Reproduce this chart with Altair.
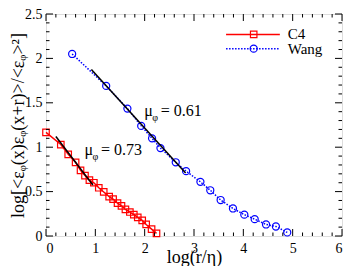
import altair as alt
import pandas as pd
import numpy as np

# ---- data ----
c4_x = [0.00, 0.30, 0.45, 0.60, 0.70, 0.79, 0.88, 0.97, 1.07, 1.17, 1.28, 1.36,
        1.45, 1.53, 1.61, 1.70, 1.78, 1.86, 1.95, 2.03, 2.14, 2.24]
c4_y = [1.167, 1.03, 0.92, 0.83, 0.74, 0.68, 0.63, 0.60, 0.543, 0.496, 0.444, 0.415,
        0.37, 0.34, 0.30, 0.27, 0.24, 0.21, 0.176, 0.13, 0.077, 0.03]

wang_x = [0.53, 1.22, 1.65, 1.93, 2.15, 2.32, 2.63, 2.84, 3.13, 3.33, 3.54,
          3.79, 4.02, 4.23, 4.46, 4.66, 4.89]
wang_y = [2.05, 1.69, 1.435, 1.24, 1.10, 0.99, 0.83, 0.73, 0.61, 0.515, 0.405,
          0.31, 0.24, 0.19, 0.13, 0.107, 0.04]

fit_c4_x = [0.20, 0.95]
fit_c4_y = [1.12, 0.575]
fit_wang_x = [0.92, 2.83]
fit_wang_y = [1.875, 0.71]

series_names = ["C4", "Wang"]
x_major = [0, 1, 2, 3, 4, 5, 6]
y_major = [0, 0.5, 1.0, 1.5, 2.0, 2.5]

W, H = 296, 222
FONT = "Times New Roman, Liberation Serif, serif"
RED = "#ff0000"
BLUE = "#0000ff"

xs = alt.Scale(domain=[0, 6], nice=False, zero=False)
ys = alt.Scale(domain=[0, 2.5], nice=False, zero=False)

c4 = pd.DataFrame({"x": c4_x, "y": c4_y})
wang = pd.DataFrame({"x": wang_x, "y": wang_y})
fc4 = pd.DataFrame({"x": fit_c4_x, "y": fit_c4_y})
fw = pd.DataFrame({"x": fit_wang_x, "y": fit_wang_y})

X = alt.X("x:Q", scale=xs,
          axis=alt.Axis(values=x_major, title="log(r/η)", format="d", ticks=False,
                        domain=False, grid=False, labelPadding=5, titlePadding=-7,
                        labelFontSize=14, titleFontSize=18, labelFont=FONT, titleFont=FONT,
                        labelColor="black", titleColor="black", titleFontWeight="normal"))
Y = alt.Y("y:Q", scale=ys,
          axis=alt.Axis(values=y_major, title="log[<εᵩ(x)εᵩ(x+r)>/<εᵩ>²]", ticks=False,
                        domain=False, grid=False, labelPadding=4, titlePadding=-3,
                        labelFontSize=14, titleFontSize=18, labelFont=FONT, titleFont=FONT,
                        labelColor="black", titleColor="black", titleFontWeight="normal",
                        labelExpr="datum.value == 0 ? '0' : (datum.value % 1 == 0 ? format(datum.value, 'd') : format(datum.value, '.1f'))"))

c4_line = alt.Chart(c4).mark_line(color=RED, strokeWidth=1.5).encode(x=X, y=Y)
c4_pts = alt.Chart(c4).mark_point(shape="square", filled=False, color=RED,
                                  strokeWidth=1.2, size=42, opacity=1).encode(x="x:Q", y="y:Q")
w_line = alt.Chart(wang).mark_line(color=BLUE, strokeWidth=1.5,
                                   strokeDash=[1.5, 1.5]).encode(x="x:Q", y="y:Q")
w_pts = alt.Chart(wang).mark_point(shape="circle", filled=False, color=BLUE,
                                   strokeWidth=1.2, size=50, opacity=1).encode(x="x:Q", y="y:Q")
f1 = alt.Chart(fc4).mark_line(color="black", strokeWidth=1.5).encode(x="x:Q", y="y:Q")
f2 = alt.Chart(fw).mark_line(color="black", strokeWidth=1.5).encode(x="x:Q", y="y:Q")

# ---- ticks pointing inward, on all four sides ----
x_minor = [round(v, 2) for v in np.arange(0, 6.001, 0.2) if abs(v - round(v)) > 1e-6]
y_minor = [round(v, 2) for v in np.arange(0, 2.5001, 0.1) if abs(v * 2 - round(v * 2)) > 1e-6]

def xticks(vals, L):
    d = pd.DataFrame({"x": vals})
    b = alt.Chart(d).mark_rule(color="black", strokeWidth=1).encode(
        x="x:Q", y=alt.value(H), y2=alt.value(H - L))
    t = alt.Chart(d).mark_rule(color="black", strokeWidth=1).encode(
        x="x:Q", y=alt.value(0), y2=alt.value(L))
    return b + t

def yticks(vals, L):
    d = pd.DataFrame({"y": vals})
    l = alt.Chart(d).mark_rule(color="black", strokeWidth=1).encode(
        y="y:Q", x=alt.value(0), x2=alt.value(L))
    r = alt.Chart(d).mark_rule(color="black", strokeWidth=1).encode(
        y="y:Q", x=alt.value(W), x2=alt.value(W - L))
    return l + r

ticks = xticks(x_major, 7) + xticks(x_minor, 3.5) + yticks(y_major, 7) + yticks(y_minor, 3.5)

# ---- annotations ----
ann = pd.DataFrame({"x": [1.99, 0.78], "y": [1.41, 0.97], "t": ["= 0.61", "= 0.73"]})
mu = alt.Chart(ann).mark_text(text="μ", align="left", baseline="middle", font=FONT,
                              fontSize=16, color="black").encode(x="x:Q", y="y:Q")
phi = alt.Chart(ann).mark_text(text="φ", align="left", baseline="middle", font=FONT,
                               fontSize=10, dx=8, dy=7, color="black").encode(x="x:Q", y="y:Q")
val = alt.Chart(ann).mark_text(align="left", baseline="middle", font=FONT,
                               fontSize=16, dx=16.5, color="black").encode(x="x:Q", y="y:Q", text="t:N")

# ---- legend (inside plot, top right) ----
leg = pd.DataFrame({"name": series_names, "y": [2.27, 2.11],
                    "x1": [3.65, 3.65], "x2": [4.74, 4.74], "xm": [4.21, 4.21], "xt": [4.90, 4.90]})
leg_c4 = leg[leg.name == "C4"]
leg_w = leg[leg.name == "Wang"]
lg1 = alt.Chart(leg_c4).mark_rule(color=RED, strokeWidth=1.5).encode(x="x1:Q", x2="x2:Q", y="y:Q")
lg2 = alt.Chart(leg_w).mark_rule(color=BLUE, strokeWidth=1.5, strokeDash=[1.5, 1.5]).encode(
    x="x1:Q", x2="x2:Q", y="y:Q")
lm1 = alt.Chart(leg_c4).mark_point(shape="square", filled=False, color=RED, strokeWidth=1.2,
                                   size=42, opacity=1).encode(x="xm:Q", y="y:Q")
lm2 = alt.Chart(leg_w).mark_point(shape="circle", filled=False, color=BLUE, strokeWidth=1.2,
                                  size=50, opacity=1).encode(x="xm:Q", y="y:Q")
lt = alt.Chart(leg).mark_text(align="left", baseline="middle", font=FONT, fontSize=15,
                              color="black").encode(x="xt:Q", y="y:Q", text="name:N")

chart = alt.layer(
    c4_line, w_line, c4_pts, w_pts, f1, f2, ticks, mu, phi, val,
    lg1, lg2, lm1, lm2, lt
).properties(
    width=W, height=H,
    autosize=alt.AutoSizeParams(type="none"),
    padding={"left": 38, "top": 6, "right": 4, "bottom": 30},
).configure_view(stroke="black", strokeWidth=2).configure_text(font=FONT).configure(background="white")

chart.save("out.html", embed_options={"renderer": "svg", "actions": False})
